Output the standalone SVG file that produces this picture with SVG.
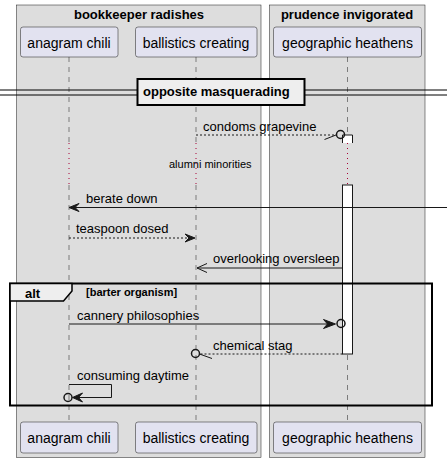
<svg xmlns="http://www.w3.org/2000/svg" width="447" height="463" viewBox="0 0 447 463">
<style>
text{font-family:"Liberation Sans",Arial,sans-serif;fill:#000}
.grp{fill:#DDDDDD;stroke:#181818;stroke-width:0.5}
.part{fill:#E2E2F0;stroke:#181818;stroke-width:0.5}
.pt{font-size:14px}
.gt{font-size:13px;font-weight:bold}
.life{stroke:#181818;stroke-width:0.5;stroke-dasharray:5,5;fill:none}
.delay{stroke:#A80036;stroke-width:1;stroke-dasharray:1,4;fill:none}
.msg{stroke:#181818;stroke-width:1;fill:none}
.dash{stroke-dasharray:2,2}
.mt{font-size:13px}
.head{fill:#181818;stroke:#181818;stroke-width:1}
.circ{fill:none;stroke:#181818;stroke-width:1.5}
.act{fill:#FFFFFF;stroke:#181818;stroke-width:1}
</style>
<g id="group-bookkeeper-radishes">
<rect class="grp" x="16.5" y="5" width="244.5" height="452.5"/>
<text class="gt" x="139" y="18.5" text-anchor="middle">bookkeeper radishes</text>
</g>
<g id="group-prudence-invigorated">
<rect class="grp" x="269.5" y="5" width="155.5" height="452.5"/>
<text class="gt" x="347" y="18.5" text-anchor="middle">prudence invigorated</text>
</g>
<g id="lifelines">
<line class="life" x1="69" y1="57" x2="69" y2="143"/>
<line class="life" x1="69" y1="185" x2="69" y2="422"/>
<line class="life" x1="196" y1="57" x2="196" y2="143"/>
<line class="life" x1="196" y1="185" x2="196" y2="422"/>
<line class="life" x1="347.5" y1="57" x2="347.5" y2="143"/>
<line class="life" x1="347.5" y1="185" x2="347.5" y2="422"/>
<line class="delay" x1="69" y1="143" x2="69" y2="185"/>
<line class="delay" x1="196" y1="143" x2="196" y2="185"/>
<line class="delay" x1="347.5" y1="143" x2="347.5" y2="185"/>
</g>
<g id="activation-geographic-heathens">
<rect x="342.5" y="135" width="10" height="8" fill="#FFFFFF"/>
<path d="M342.5,143 V135 H352.5 V143" class="act"/>
<rect class="act" x="342.5" y="185" width="10" height="169"/>
</g>
<g id="participant-anagram-chili">
<rect class="part" x="20.5" y="27" width="97.5" height="30" rx="2.5"/>
<text class="pt" x="69" y="47.5" text-anchor="middle">anagram chili</text>
<rect class="part" x="20.5" y="422" width="97.5" height="31" rx="2.5"/>
<text class="pt" x="69" y="442.5" text-anchor="middle">anagram chili</text>
</g>
<g id="participant-ballistics-creating">
<rect class="part" x="135.5" y="27" width="121.5" height="30" rx="2.5"/>
<text class="pt" x="196" y="47.5" text-anchor="middle">ballistics creating</text>
<rect class="part" x="135.5" y="422" width="121.5" height="31" rx="2.5"/>
<text class="pt" x="196" y="442.5" text-anchor="middle">ballistics creating</text>
</g>
<g id="participant-geographic-heathens">
<rect class="part" x="273.5" y="27" width="148" height="30" rx="2.5"/>
<text class="pt" x="347.5" y="47.5" text-anchor="middle">geographic heathens</text>
<rect class="part" x="273.5" y="422" width="148" height="31" rx="2.5"/>
<text class="pt" x="347.5" y="442.5" text-anchor="middle">geographic heathens</text>
</g>
<g id="divider-opposite-masquerading">
<line x1="0" y1="90" x2="447" y2="90" stroke="#000" stroke-width="1"/>
<line x1="0" y1="95" x2="447" y2="95" stroke="#000" stroke-width="1"/>
<rect x="137.5" y="79" width="167" height="26" fill="#EEEEEE" stroke="#000" stroke-width="2"/>
<text class="gt" x="143" y="96">opposite masquerading</text>
</g>
<g id="connectors">
<line class="msg dash" x1="196" y1="135" x2="336.5" y2="135"/>
<line class="msg" x1="324.5" y1="139.5" x2="336" y2="135"/>
<circle class="circ" cx="340.5" cy="134.5" r="4"/>
<text class="mt" x="203" y="131">condoms grapevine</text>
<text x="169" y="168" font-size="11px">alumni minorities</text>
<line class="msg" x1="447" y1="207.5" x2="72" y2="207.5"/>
<polygon class="head" points="69,207.5 79,203.5 75,207.5 79,211.5"/>
<text class="mt" x="86" y="203">berate down</text>
<line class="msg dash" x1="69" y1="238" x2="192" y2="238"/>
<polygon class="head" points="195,238 185,234 189,238 185,242"/>
<text class="mt" x="76" y="233">teaspoon dosed</text>
<line class="msg" x1="342.5" y1="268" x2="197" y2="268"/>
<polyline class="msg" points="207,263.5 197,268 207,272.5"/>
<text class="mt" x="213" y="263">overlooking oversleep</text>
<line class="msg dash" x1="342.5" y1="354" x2="200" y2="354"/>
<line class="msg" x1="199.5" y1="354" x2="212" y2="358.5"/>
<circle class="circ" cx="195.5" cy="353.5" r="4"/>
<text class="mt" x="213" y="350">chemical stag</text>
<line class="msg" x1="69" y1="324" x2="333" y2="324"/>
<polygon class="head" points="335.5,324 323.5,319.5 327.5,324 323.5,328.5"/>
<circle class="circ" cx="341" cy="323.5" r="4"/>
<text class="mt" x="77" y="320">cannery philosophies</text>
<polyline class="msg" points="69,384.5 111.5,384.5 111.5,397.5 75,397.5"/>
<polygon class="head" points="72.5,397.5 82.5,393 78.5,397.5 82.5,402"/>
<circle class="circ" cx="68" cy="397.5" r="4"/>
<text class="mt" x="77" y="380">consuming daytime</text>
</g>
<g id="alt-frame">
<rect x="10" y="283.5" width="422" height="122" fill="none" stroke="#000" stroke-width="2"/>
<path d="M10,283.5 H72 V291 L63.5,301 H10 Z" fill="#EEEEEE" stroke="#000" stroke-width="1.5"/>
<text class="gt" x="25" y="297.5">alt</text>
<text x="86" y="296" font-size="11px" font-weight="bold">[barter organism]</text>
</g>
</svg>
